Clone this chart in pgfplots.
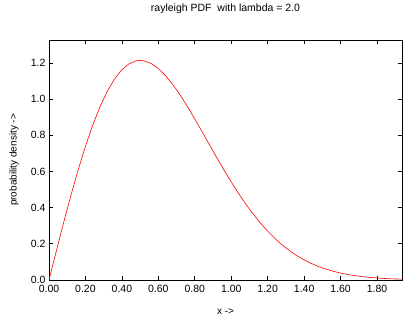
\documentclass[border=0pt]{standalone}
\usepackage{pgfplots}
\pgfplotsset{compat=1.18}
\usepackage{fontspec}
\setmainfont{Liberation Sans}
\begin{document}
\begin{tikzpicture}[x=1pt,y=1pt]
\path[use as bounding box] (-49,-40) rectangle (371,280);
\begin{axis}[
  at={(0,0)}, anchor=south west,
  scale only axis, width=353pt, height=240pt,
  xmin=0, xmax=1.937, ymin=0, ymax=1.326,
  xtick={0,0.2,...,1.81}, ytick={0,0.2,...,1.21},
  tick align=inside, major tick length=4pt,
  xtick pos=both, ytick pos=both,
  xticklabel style={yshift=-2pt,/pgf/number format/.cd,fixed,fixed zerofill,precision=2},
  yticklabel style={/pgf/number format/.cd,fixed,fixed zerofill,precision=1},
  /pgf/number format/assume math mode=true,
  tick label style={font=\fontsize{10.5}{12}\selectfont},
  label style={font=\fontsize{10}{12}\selectfont},
  title={rayleigh PDF\ \ with lambda = 2.0},
  title style={font=\fontsize{10.5}{12}\selectfont, at={(axis description cs:0.5,1.104)}, anchor=center},
  xlabel={x ->}, ylabel={probability density ->},
  xlabel style={at={(axis description cs:0.5,-0.133)}, anchor=center},
  ylabel style={at={(axis description cs:-0.099,0.5)}, anchor=center},
  axis line style={line width=0.8pt},
  every tick/.style={black, line width=0.6pt},
]
\addplot[red, line width=0.6pt] coordinates {
(0,0) (0.04,0.1595) (0.08,0.3159) (0.12,0.4664) (0.16,0.6081) (0.20,0.7385)
(0.24,0.8555) (0.28,0.9575) (0.32,1.0430) (0.36,1.1112) (0.40,1.1618)
(0.44,1.1950) (0.48,1.2111) (0.50,1.2131) (0.52,1.2112) (0.56,1.1964)
(0.60,1.1682) (0.64,1.1284) (0.68,1.0788) (0.72,1.0212) (0.76,0.9576)
(0.80,0.8897) (0.84,0.8193) (0.88,0.7481) (0.92,0.6770) (0.96,0.6079)
(1.00,0.5413) (1.04,0.4783) (1.08,0.4192) (1.12,0.3645) (1.16,0.3146)
(1.20,0.2694) (1.24,0.2290) (1.28,0.1933) (1.32,0.1619) (1.36,0.1346)
(1.40,0.1111) (1.44,0.0911) (1.48,0.0741) (1.52,0.0599) (1.56,0.0481)
(1.60,0.0383) (1.64,0.0303) (1.68,0.0238) (1.72,0.0185) (1.76,0.0143)
(1.80,0.0110) (1.84,0.0084) (1.88,0.0064) (1.92,0.0048) (1.94,0.0042)
};
\end{axis}
\end{tikzpicture}
\end{document}
